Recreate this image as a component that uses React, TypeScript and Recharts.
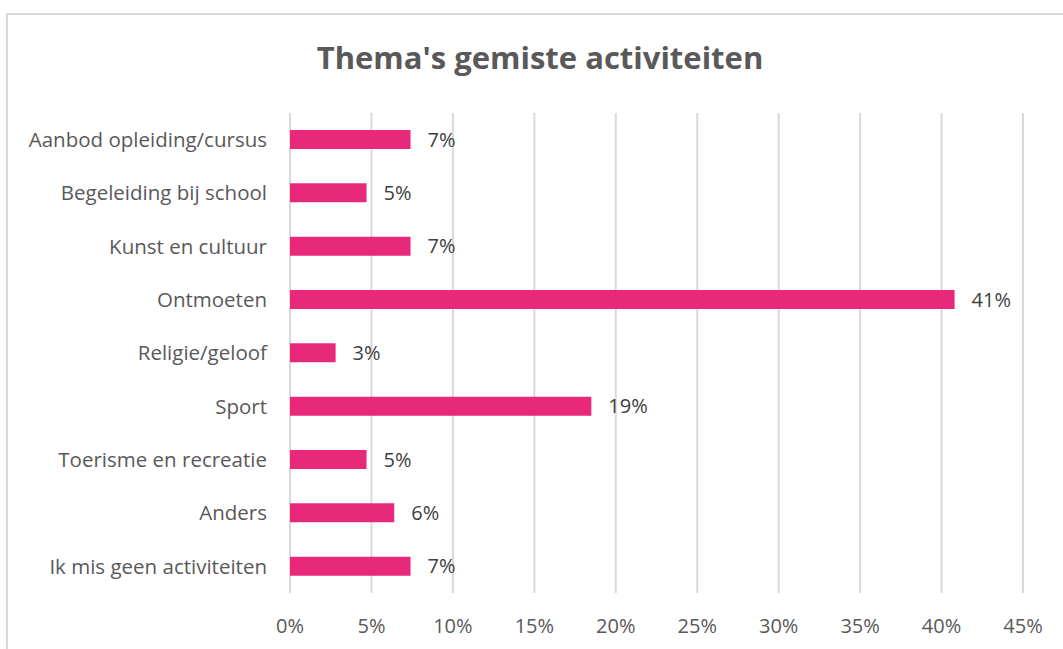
import React from 'react';
import { BarChart, Bar, XAxis, YAxis, CartesianGrid, LabelList } from 'recharts';

const categories = [
  'Aanbod opleiding/cursus',
  'Begeleiding bij school',
  'Kunst en cultuur',
  'Ontmoeten',
  'Religie/geloof',
  'Sport',
  'Toerisme en recreatie',
  'Anders',
  'Ik mis geen activiteiten',
];
const values = [0.074, 0.047, 0.074, 0.408, 0.028, 0.185, 0.047, 0.064, 0.074];
const xTicks = [0, 0.05, 0.1, 0.15, 0.2, 0.25, 0.3, 0.35, 0.4, 0.45];
const title = "Thema's gemiste activiteiten";

const data = categories.map((c, i) => ({ name: c, value: values[i] }));
const FONT = '"Open Sans", sans-serif';

export default function App() {
  return (
    <div style={{ position: 'absolute', left: 0, top: 0, width: 1063, height: 649, background: '#fff', overflow: 'hidden', fontFamily: FONT }}>
      <div style={{ position: 'absolute', left: 6, top: 13, width: 1100, height: 700, border: '2px solid #d9d9d9', boxSizing: 'border-box' }} />
      <div style={{ position: 'absolute', left: 0, top: 37, width: 1080, textAlign: 'center', fontSize: 31, lineHeight: '40px', fontWeight: 'bold', color: '#595959' }}>{title}</div>
      <div style={{ position: 'absolute', left: 0, top: 0 }}>
        <BarChart
          width={1063}
          height={649}
          data={data}
          layout="vertical"
          margin={{ top: 113, right: 40, bottom: 26, left: 0 }}
          barCategoryGap="65%"
        >
          <CartesianGrid horizontal={false} stroke="#d9d9d9" strokeWidth={2} />
          <XAxis
            type="number"
            domain={[0, 0.45]}
            ticks={xTicks}
            tickFormatter={(v: number) => `${Math.round(v * 100)}%`}
            axisLine={false}
            tickLine={false}
            tickSize={0}
            tickMargin={26}
            height={30}
            tick={{ fill: '#595959', fontSize: 20, fontFamily: FONT }}
            interval={0}
          />
          <YAxis
            type="category"
            dataKey="name"
            width={290}
            axisLine={false}
            tickLine={false}
            tickSize={0}
            tickMargin={23}
            interval={0}
            tick={{ fill: '#595959', fontSize: 20.5, fontFamily: FONT }}
          />
          <Bar dataKey="value" fill="#E8297A" barSize={19} isAnimationActive={false}>
            <LabelList
              dataKey="value"
              position="right"
              offset={17}
              formatter={(v: number) => `${Math.round(v * 100)}%`}
              style={{ fill: '#404040', fontSize: 20, fontFamily: FONT }}
            />
          </Bar>
        </BarChart>
      </div>
    </div>
  );
}
